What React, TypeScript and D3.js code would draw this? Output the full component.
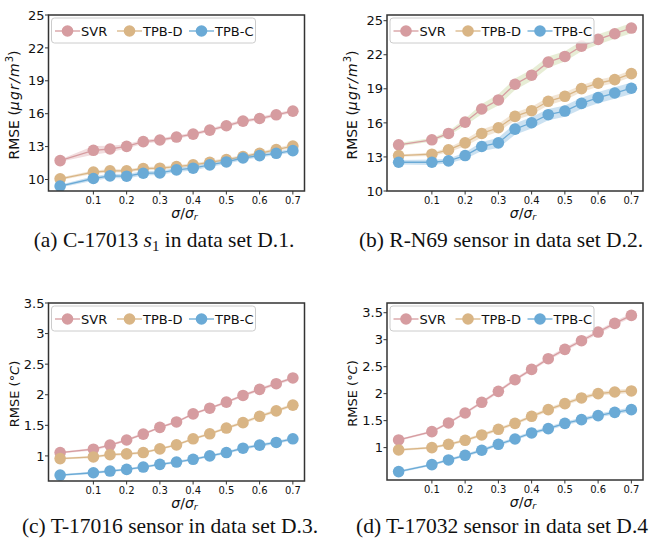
import * as d3 from 'd3';

document.body.style.margin = '0';

// x positions (sigma / sigma_r)
const sigma = [0, 0.1, 0.15, 0.2, 0.25, 0.3, 0.35, 0.4, 0.45, 0.5, 0.55, 0.6, 0.65, 0.7];
const xTicks = [0.1, 0.2, 0.3, 0.4, 0.5, 0.6, 0.7];
const methods = ['SVR', 'TPB-D', 'TPB-C'];

// (a) C-17013 s1, D.1
const aSvr = [11.72, 12.66, 12.78, 13.02, 13.45, 13.6, 13.87, 14.14, 14.5, 14.9, 15.32, 15.56, 15.9, 16.23];
const aTpbD = [10.06, 10.67, 10.79, 10.79, 11.0, 11.03, 11.18, 11.33, 11.57, 11.81, 12.09, 12.39, 12.72, 13.05];
const aTpbC = [9.4, 10.09, 10.33, 10.3, 10.57, 10.6, 10.88, 11.03, 11.33, 11.6, 11.96, 12.18, 12.39, 12.63];
const aSvrStd = [0.1, 0.4, 0.3, 0.2, 0.18, 0.15, 0.15, 0.15, 0.15, 0.15, 0.15, 0.15, 0.15, 0.15];
const aTpbDStd = [0.12, 0.15, 0.15, 0.15, 0.15, 0.15, 0.15, 0.15, 0.15, 0.15, 0.15, 0.15, 0.15, 0.18];
const aTpbCStd = [0.12, 0.2, 0.2, 0.2, 0.2, 0.2, 0.2, 0.2, 0.18, 0.18, 0.18, 0.18, 0.18, 0.18];

// (b) R-N69, D.2
const bSvr = [14.07, 14.51, 15.07, 16.07, 17.22, 18.02, 19.4, 20.2, 21.35, 21.85, 22.76, 23.35, 23.85, 24.35];
const bTpbD = [13.12, 13.24, 13.62, 14.24, 15.07, 15.57, 16.57, 17.07, 17.9, 18.34, 19.02, 19.49, 19.81, 20.34];
const bTpbC = [12.53, 12.53, 12.65, 13.12, 13.92, 14.24, 15.45, 16.01, 16.72, 17.04, 17.72, 18.22, 18.63, 19.05];
const bSvrStd = [0.15, 0.15, 0.2, 0.3, 0.45, 0.5, 0.5, 0.5, 0.5, 0.45, 0.45, 0.45, 0.45, 0.45];
const bTpbDStd = [0.1, 0.15, 0.2, 0.3, 0.35, 0.35, 0.35, 0.35, 0.35, 0.35, 0.3, 0.3, 0.3, 0.3];
const bTpbCStd = [0.2, 0.25, 0.2, 0.3, 0.4, 0.45, 0.5, 0.5, 0.5, 0.5, 0.5, 0.5, 0.5, 0.5];

// (c) T-17016, D.3
const cSvr = [1.055, 1.11, 1.176, 1.26, 1.357, 1.467, 1.555, 1.687, 1.78, 1.879, 1.989, 2.088, 2.181, 2.275];
const cTpbD = [0.956, 0.983, 1.02, 1.033, 1.055, 1.115, 1.181, 1.28, 1.362, 1.456, 1.544, 1.648, 1.736, 1.83];
const cTpbC = [0.687, 0.725, 0.753, 0.78, 0.818, 0.862, 0.9, 0.945, 1.0, 1.055, 1.126, 1.176, 1.22, 1.28];
const cStd = [0.015, 0.02, 0.02, 0.02, 0.02, 0.02, 0.02, 0.02, 0.02, 0.02, 0.025, 0.025, 0.025, 0.025];

// (d) T-17032, D.4
const dSvr = [1.142, 1.296, 1.457, 1.642, 1.84, 2.043, 2.259, 2.45, 2.648, 2.821, 2.981, 3.142, 3.302, 3.45];
const dTpbD = [0.957, 1.0, 1.062, 1.136, 1.235, 1.34, 1.45, 1.58, 1.704, 1.815, 1.92, 2.0, 2.031, 2.05];
const dTpbC = [0.556, 0.685, 0.772, 0.858, 0.951, 1.062, 1.16, 1.272, 1.352, 1.45, 1.518, 1.593, 1.654, 1.704];
const dStd = [0.02, 0.02, 0.025, 0.025, 0.03, 0.03, 0.03, 0.03, 0.035, 0.035, 0.035, 0.035, 0.04, 0.04];

const ticksUg = [10, 13, 16, 19, 22, 25];
const ticksC = [1, 1.5, 2, 2.5, 3, 3.5];

const lineColors = ['#d69ca0', '#d9b585', '#6aaad6'];
const bandPink = ['#d69ca0', '#d9b585', '#6aaad6'];
const bandGreen = ['#b9cc86', '#d9b585', '#6aaad6'];

type PanelProps = {
  x: number; y: number; w: number; h: number;
  yDomain: [number, number];
  yTicks: number[];
  series: number[][];
  stds: number[][];
  bands: string[];
  unit: 'ug' | 'c';
  caption: React.ReactNode;
  captionX: number;
  captionY: number;
};

const sans = 'DejaVu Sans, sans-serif';
const serif = 'Liberation Serif, Times New Roman, serif';

function Panel({ x, y, w, h, yDomain, yTicks, series, stds, bands, unit, caption, captionX, captionY }: PanelProps) {
  const xs = d3.scaleLinear().domain([-0.035, 0.735]).range([0, w]);
  const ys = d3.scaleLinear().domain(yDomain).range([h, 0]);
  const line = d3.line<number>().x((_, i) => xs(sigma[i])).y(d => ys(d));
  const legendOffsets = [0, 62, 134];
  return (
    <g transform={`translate(${x},${y})`}>
      <defs>
        <clipPath id={`clip-${x}-${y}`}>
          <rect x={0} y={0} width={w} height={h} />
        </clipPath>
      </defs>
      <g clipPath={`url(#clip-${x}-${y})`}>
        {series.map((s, k) => {
          const area = d3.area<number>()
            .x((_, i) => xs(sigma[i]))
            .y0((d, i) => ys(d - stds[k][i]))
            .y1((d, i) => ys(d + stds[k][i]));
          return (
            <g key={k}>
              <path d={area(s) || ''} fill={bands[k]} fillOpacity={0.35} />
              <path d={line(s) || ''} fill="none" stroke={lineColors[k]} strokeWidth={1.3} />
              {s.map((v, i) => (
                <circle key={i} cx={xs(sigma[i])} cy={ys(v)} r={5.8} fill={lineColors[k]} />
              ))}
            </g>
          );
        })}
      </g>
      {/* legend */}
      <g transform="translate(3,3)">
        <rect x={0} y={0} width={204} height={25} rx={3} fill="white" fillOpacity={0.8} stroke="#cccccc" strokeWidth={1} />
        {methods.map((m, k) => (
          <g key={m} transform={`translate(${3.5 + legendOffsets[k]},13)`}>
            <line x1={0} x2={25} y1={0} y2={0} stroke={lineColors[k]} strokeWidth={1.3} />
            <circle cx={12.5} cy={0} r={5.8} fill={lineColors[k]} />
            <text x={26} y={0} dy="0.36em" fontSize={13} fontFamily={sans} fill="#111">{m}</text>
          </g>
        ))}
      </g>
      <rect x={0} y={0} width={w} height={h} fill="none" stroke="#333" strokeWidth={1.5} />
      {xTicks.map(t => (
        <g key={t} transform={`translate(${xs(t)},${h})`}>
          <line y1={0} y2={3.5} stroke="#333" strokeWidth={1} />
          <text y={13} textAnchor="middle" fontSize={10} fontFamily={sans} fill="#111">{t.toFixed(1)}</text>
        </g>
      ))}
      {yTicks.map(t => (
        <g key={t} transform={`translate(0,${ys(t)})`}>
          <line x1={-3.5} x2={0} stroke="#333" strokeWidth={1} />
          <text x={-4} dy="0.36em" textAnchor="end" fontSize={13} fontFamily={sans} fill="#111">{String(t)}</text>
        </g>
      ))}
      <text x={w / 2 + 8} y={h + 27} textAnchor="middle" fontSize={14} fontFamily={sans} fill="#111">
        <tspan fontStyle="italic">σ</tspan>/<tspan fontStyle="italic">σ</tspan>
        <tspan fontStyle="italic" fontSize={9.5} dy={2}>r</tspan>
      </text>
      <text transform={`translate(-30,${h / 2 + 2}) rotate(-90)`} textAnchor="middle" fontSize={unit === 'ug' ? 14 : 13} fontFamily={sans} fill="#111">
        {unit === 'ug' ? (
          <>RMSE (<tspan fontStyle="italic" letterSpacing={1.2}>μgr/m</tspan><tspan fontSize={10} dy={-6}>3</tspan><tspan dy={6}>)</tspan></>
        ) : (
          <>RMSE (°<tspan fontStyle="italic">C</tspan>)</>
        )}
      </text>
      <text x={captionX - x} y={captionY} textAnchor="middle" fontSize={21.5} fontFamily={serif} fill="#111">{caption}</text>
    </g>
  );
}

export default function App() {
  const W = 256, H = 176;
  return (
    <svg width={660} height={539} style={{ display: 'block', background: 'white' }}>
      <Panel x={48.5} y={15} w={W} h={H} yDomain={[8.95, 25]} yTicks={ticksUg}
        series={[aSvr, aTpbD, aTpbC]} stds={[aSvrStd, aTpbDStd, aTpbCStd]} bands={bandPink} unit="ug"
        captionX={164} captionY={232}
        caption={<>(a) C-17013 <tspan fontStyle="italic">s</tspan><tspan fontSize={15} dy={4}>1</tspan><tspan dy={-4}> in data set D.1.</tspan></>} />
      <Panel x={387} y={15} w={W} h={H} yDomain={[10, 25.5]} yTicks={ticksUg}
        series={[bSvr, bTpbD, bTpbC]} stds={[bSvrStd, bTpbDStd, bTpbCStd]} bands={bandGreen} unit="ug"
        captionX={501} captionY={232}
        caption="(b) R-N69 sensor in data set D.2." />
      <Panel x={48.5} y={303} w={W} h={178} yDomain={[0.59, 3.5]} yTicks={ticksC}
        series={[cSvr, cTpbD, cTpbC]} stds={[cStd, cStd, cStd]} bands={bandPink} unit="c"
        captionX={170} captionY={229.5}
        caption="(c) T-17016 sensor in data set D.3." />
      <Panel x={387} y={303} w={W} h={177} yDomain={[0.4, 3.68]} yTicks={ticksC}
        series={[dSvr, dTpbD, dTpbC]} stds={[dStd, dStd, dStd]} bands={bandPink} unit="c"
        captionX={502} captionY={229.5}
        caption="(d) T-17032 sensor in data set D.4" />
    </svg>
  );
}
